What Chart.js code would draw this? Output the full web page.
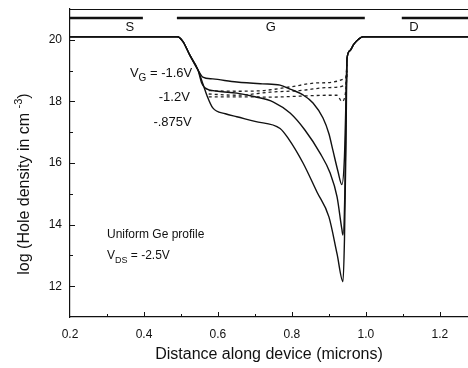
<!DOCTYPE html>
<html>
<head>
<meta charset="utf-8">
<script src="https://cdn.jsdelivr.net/npm/chart.js@4.4.1/dist/chart.umd.min.js"></script>
<style>
  html, body { margin: 0; padding: 0; background: #fff; }
</style>
</head>
<body>
<canvas id="chart" width="468" height="368"></canvas>
<script>
// values (x in microns, y = log hole density)
const xTicks = [0.2, 0.4, 0.6, 0.8, 1.0, 1.2];
const yTicks = [12, 14, 16, 18, 20];

// V_G = -1.6V
const xVg16 = [0.2, 0.49, 0.505, 0.524, 0.546, 0.559, 0.586, 0.651, 0.72, 0.768, 0.795, 0.83, 0.857, 0.884, 0.9, 0.911, 0.924, 0.935, 0.942, 0.946, 0.949, 0.957, 0.967, 0.98, 0.992, 1.3];
const yVg16 = [20.1, 20.1, 19.95, 19.5, 19.02, 18.79, 18.73, 18.63, 18.57, 18.53, 18.4, 18.21, 17.95, 17.46, 16.95, 16.4, 15.75, 15.3, 16.2, 18.0, 19.4, 19.65, 19.85, 20.02, 20.1, 20.1];

// V_G = -1.2V
const xVg12 = [0.2, 0.49, 0.505, 0.524, 0.546, 0.556, 0.565, 0.6, 0.651, 0.7, 0.75, 0.795, 0.835, 0.876, 0.903, 0.922, 0.935, 0.938, 0.943, 0.946, 0.949, 0.957, 0.967, 0.98, 0.992, 1.3];
const yVg12 = [20.1, 20.1, 19.95, 19.5, 19.02, 18.6, 18.44, 18.33, 18.27, 18.15, 17.98, 17.62, 17.07, 16.32, 15.68, 14.9, 13.85, 13.66, 15.0, 17.5, 19.4, 19.65, 19.85, 20.02, 20.1, 20.1];

// V_G = -.875V
const xVg875 = [0.2, 0.49, 0.505, 0.524, 0.546, 0.557, 0.57, 0.586, 0.62, 0.651, 0.7, 0.768, 0.79, 0.83, 0.868, 0.9, 0.922, 0.938, 0.942, 0.946, 0.949, 0.957, 0.967, 0.98, 0.992, 1.3];
const yVg875 = [20.1, 20.1, 19.95, 19.5, 19.02, 18.65, 18.2, 17.79, 17.6, 17.5, 17.35, 17.12, 16.8, 16.0, 15.05, 14.25, 13.05, 12.15, 13.5, 16.5, 19.4, 19.65, 19.85, 20.02, 20.1, 20.1];

// dotted curves
const xDot1 = [0.575, 0.65, 0.72, 0.795, 0.87, 0.945, 0.949];
const yDot1 = [18.35, 18.33, 18.35, 18.47, 18.6, 18.76, 19.2];
const xDot2 = [0.575, 0.65, 0.741, 0.82, 0.9, 0.945, 0.949];
const yDot2 = [18.24, 18.2, 18.3, 18.35, 18.45, 18.53, 19.0];
const xDot3 = [0.575, 0.65, 0.741, 0.82, 0.9, 0.922, 0.935, 0.945, 0.949];
const yDot3 = [18.15, 18.15, 18.14, 18.17, 18.2, 18.2, 18.0, 18.3, 18.9];

// source / gate / drain bars
const regionLabels = ['S', 'G', 'D'];
const regionStart = [0.2, 0.489, 1.097];
const regionEnd = [0.397, 0.997, 1.3];
const regionLabelX = [0.362, 0.743, 1.13];
const regionY = 20.71;
const regionLabelY = 20.41;

const pts = (xs, ys) => xs.map((x, i) => ({ x, y: ys[i] }));

const solid = (xs, ys) => ({
  data: pts(xs, ys), borderColor: '#111', borderWidth: 1.4,
  pointRadius: 0, showLine: true, cubicInterpolationMode: 'monotone'
});
const dotted = (xs, ys) => ({
  data: pts(xs, ys), borderColor: '#222', borderWidth: 1.3, borderDash: [3, 3],
  pointRadius: 0, showLine: true, cubicInterpolationMode: 'monotone'
});

const datasets = [
  solid(xVg16, yVg16),
  solid(xVg12, yVg12),
  solid(xVg875, yVg875),
  dotted(xDot1, yDot1),
  dotted(xDot2, yDot2),
  dotted(xDot3, yDot3),
];
regionLabels.forEach((_, i) => {
  datasets.push({
    data: [{ x: regionStart[i], y: regionY }, { x: regionEnd[i], y: regionY }],
    borderColor: '#111', borderWidth: 2.5, pointRadius: 0, showLine: true
  });
});

const FONT = '"Liberation Sans", Arial, sans-serif';

// writes "main" then a lowered subscript then the rest
function subText(ctx, x, y, main, sub, rest, size) {
  ctx.font = `${size}px ${FONT}`;
  ctx.fillText(main, x, y);
  let cx = x + ctx.measureText(main).width;
  ctx.font = `${Math.round(size * 0.75)}px ${FONT}`;
  ctx.fillText(sub, cx, y + size * 0.35);
  cx += ctx.measureText(sub).width;
  ctx.font = `${size}px ${FONT}`;
  ctx.fillText(rest, cx, y);
}

const decorations = {
  id: 'decorations',
  afterDraw(chart) {
    const { ctx, chartArea: a, scales: { x, y } } = chart;
    ctx.save();
    ctx.strokeStyle = '#111';
    ctx.fillStyle = '#111';

    // top frame line
    ctx.lineWidth = 1;
    ctx.beginPath();
    ctx.moveTo(a.left, a.top + 0.5);
    ctx.lineTo(a.right, a.top + 0.5);
    ctx.stroke();

    // inward ticks
    ctx.beginPath();
    for (let v = 0.3; v < 1.28; v += 0.1) {
      const px = Math.round(x.getPixelForValue(v)) + 0.5;
      const major = Math.abs(Math.round(v * 10) % 2) === 0;
      ctx.moveTo(px, a.bottom);
      ctx.lineTo(px, a.bottom - (major ? 5 : 3));
    }
    for (let v = 12; v <= 20; v += 1) {
      const py = Math.round(y.getPixelForValue(v)) + 0.5;
      const major = v % 2 === 0;
      ctx.moveTo(a.left, py);
      ctx.lineTo(a.left + (major ? 5 : 3), py);
    }
    ctx.stroke();

    // region labels
    ctx.font = `13px ${FONT}`;
    ctx.textAlign = 'center';
    ctx.textBaseline = 'middle';
    regionLabels.forEach((t, i) => {
      ctx.fillText(t, x.getPixelForValue(regionLabelX[i]), y.getPixelForValue(regionLabelY));
    });

    // gate voltage labels
    ctx.textAlign = 'left';
    subText(ctx, x.getPixelForValue(0.362), y.getPixelForValue(18.9), 'V', 'G', ' = -1.6V', 13);
    ctx.textAlign = 'right';
    ctx.font = `13px ${FONT}`;
    ctx.fillText('-1.2V', x.getPixelForValue(0.524), y.getPixelForValue(18.13));
    ctx.fillText('-.875V', x.getPixelForValue(0.529), y.getPixelForValue(17.32));

    ctx.textAlign = 'left';
    ctx.font = `12px ${FONT}`;
    ctx.fillText('Uniform Ge profile', x.getPixelForValue(0.3), y.getPixelForValue(13.67));
    subText(ctx, x.getPixelForValue(0.3), y.getPixelForValue(12.98), 'V', 'DS', ' = -2.5V', 12);

    // y axis title with superscript
    ctx.translate(25, 184);
    ctx.rotate(-Math.PI / 2);
    ctx.textAlign = 'left';
    ctx.font = `16px ${FONT}`;
    const t1 = 'log (Hole density in cm ';
    const w1 = ctx.measureText(t1).width;
    ctx.font = `11px ${FONT}`;
    const w2 = ctx.measureText('-3').width;
    ctx.font = `16px ${FONT}`;
    const w3 = ctx.measureText(')').width;
    let sx = -(w1 + w2 + w3) / 2;
    ctx.fillText(t1, sx, 0);
    sx += w1;
    ctx.font = `11px ${FONT}`;
    ctx.fillText('-3', sx, -6);
    sx += w2;
    ctx.font = `16px ${FONT}`;
    ctx.fillText(')', sx, 0);
    ctx.restore();
  }
};

new Chart(document.getElementById('chart'), {
  type: 'scatter',
  data: { datasets },
  options: {
    responsive: false,
    animation: false,
    layout: { padding: { top: 9, right: 0, left: 0, bottom: 0 } },
    plugins: { legend: { display: false }, tooltip: { enabled: false } },
    scales: {
      x: {
        type: 'linear', min: 0.2, max: 1.276,
        afterBuildTicks: (s) => { s.ticks = xTicks.map((v) => ({ value: v })); },
        afterFit: (s) => { s.height = 51; s.paddingLeft = 0; s.paddingRight = 0; },
        grid: { display: false, drawTicks: false },
        border: { display: true, color: '#111', width: 1.2 },
        ticks: {
          padding: 10, color: '#111', font: { family: FONT, size: 12 },
          callback: (v) => Number(v).toFixed(1), maxRotation: 0
        },
        title: {
          display: true, text: 'Distance along device (microns)', color: '#111',
          font: { family: FONT, size: 16 }, padding: { top: 6 }
        }
      },
      y: {
        type: 'linear', min: 11, max: 21,
        afterBuildTicks: (s) => { s.ticks = yTicks.map((v) => ({ value: v })); },
        afterFit: (s) => { s.width = 70; s.paddingTop = 0; s.paddingBottom = 0; },
        grid: { display: false, drawTicks: false },
        border: { display: true, color: '#111', width: 1.2 },
        ticks: { padding: 8, color: '#111', font: { family: FONT, size: 12 } }
      }
    }
  },
  plugins: [decorations]
});
</script>
</body>
</html>
